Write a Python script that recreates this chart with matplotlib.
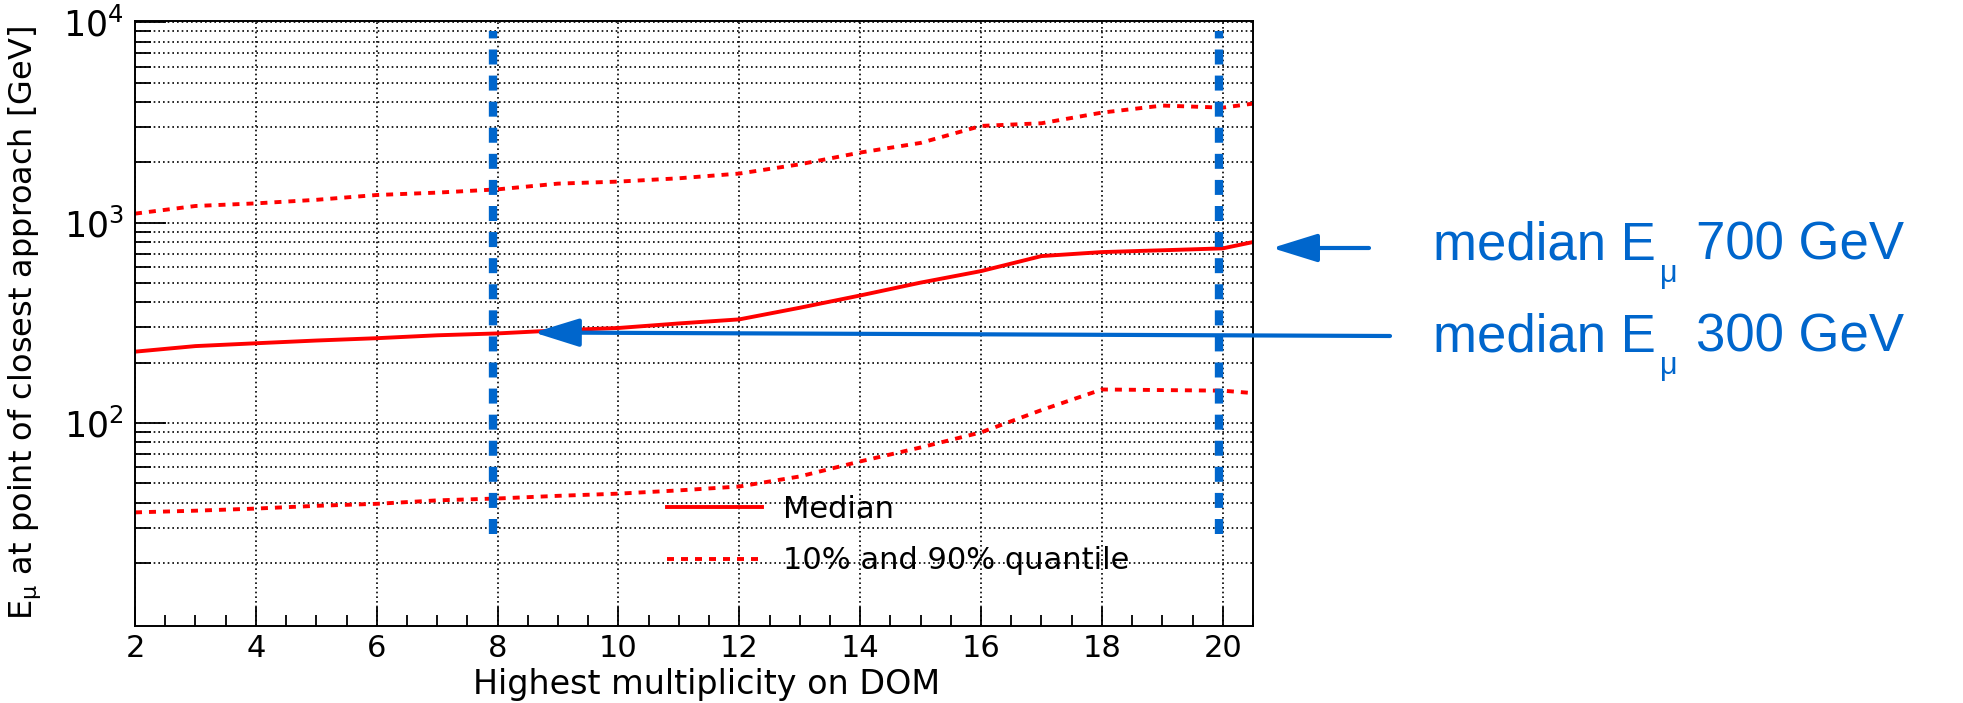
import numpy as np
import matplotlib
matplotlib.use('Agg')
import matplotlib.pyplot as plt
from matplotlib.ticker import FixedLocator, LogLocator, MultipleLocator, NullFormatter
from matplotlib.lines import Line2D

plt.rcParams['font.family'] = ['DejaVu Sans']

# values
multiplicity = [2, 3, 4, 5, 6, 7, 8, 9, 10, 11, 12, 13, 14, 15, 16, 17, 18, 19, 20, 20.5]
median = [227, 242, 250, 258, 265, 274, 280, 290, 298, 314, 329, 376, 433, 502, 573, 681, 713, 728, 744, 800]
q90 = [1109, 1211, 1248, 1300, 1374, 1412, 1466, 1566, 1603, 1665, 1758, 1955, 2238, 2500, 3040, 3134, 3542, 3840, 3751, 3927]
q10 = [35.8, 36.5, 37.4, 38.6, 39.5, 41.1, 42.0, 43.3, 44.4, 46.1, 48.2, 54.1, 64.3, 75.5, 89.8, 116, 147, 146, 145, 141]

cut_lines = [7.93, 19.93]   # blue dashed markers
cut_span = [28, 9000]
legend_labels = ['Median', '10% and 90% quantile']
note_energies = ['700 GeV', '300 GeV']
arrow_300_tip = (8.6, 283)

W, H = 1963, 703
blue = '#0066cc'
dotted = (0, (1.8, 1.8))

fig = plt.figure(figsize=(W / 100, H / 100), dpi=100)
ax = fig.add_axes([135 / W, 1 - 626 / H, (1253 - 135) / W, (626 - 21) / H])

ax.plot(multiplicity, median, color='red', lw=2.8)
ax.plot(multiplicity, q90, color='red', lw=2.8, ls=dotted)
ax.plot(multiplicity, q10, color='red', lw=2.8, ls=dotted)

ax.vlines(cut_lines, cut_span[0], cut_span[1], colors=blue, lw=6, linestyles=[(0, (1.8, 1.33))], zorder=4)

ax.set_yscale('log')
ax.set_xlim(2, 20.5)
ax.set_ylim(9.7, 1.015e4)
ax.xaxis.set_major_locator(MultipleLocator(2))
ax.xaxis.set_minor_locator(MultipleLocator(0.5))
ax.yaxis.set_major_locator(FixedLocator([1e2, 1e3, 1e4]))
ax.yaxis.set_minor_locator(LogLocator(base=10, subs=np.arange(2, 10)))
ax.yaxis.set_minor_formatter(NullFormatter())
ax.set_yticklabels(['$10^{2}$', '$10^{3}$', '$10^{4}$'])

ax.tick_params(axis='x', which='major', direction='in', length=13.7, width=1.3, labelsize=22, pad=6, top=False)
ax.tick_params(axis='x', which='minor', direction='in', length=8, width=1.3, top=False)
ax.tick_params(axis='y', which='major', direction='in', length=22, width=1.3, labelsize=25, pad=8, right=False)
ax.tick_params(axis='y', which='minor', direction='in', length=11.5, width=1.3, right=False)
for s in ax.spines.values():
    s.set_linewidth(1.4)

grid_kw = dict(color='black', lw=1.2, ls=(0, (1, 1.8)))
ax.grid(True, which='major', axis='x', **grid_kw)
ax.grid(True, which='both', axis='y', **grid_kw)
ax.set_axisbelow(True)

ax.set_xlabel('Highest multiplicity on DOM', fontsize=24, va='top')
ax.xaxis.set_label_coords((707 - 135) / 1118, -(668 - 626) / 605)
fig.text(25 / W, 1 - 323 / H, 'E$_{\\mathregular{μ}}$ at point of closest approach [GeV]',
         fontsize=23, rotation=90, ha='center', va='center')

handles = [Line2D([], [], color='red', lw=2.8), Line2D([], [], color='red', lw=2.8, ls=dotted)]
ax.legend(handles, legend_labels, loc='upper left', bbox_to_anchor=(667 / W, 1 - 495 / H),
          bbox_transform=fig.transFigure, frameon=False, fontsize=22, borderpad=0,
          borderaxespad=0, handlelength=3.1, handletextpad=0.69, labelspacing=0.73)

# right-hand notes: "median E", subscript mu, energy
renderer = fig.canvas.get_renderer()
note_kw = dict(color=blue, family='Liberation Sans', va='baseline')
for baseline, energy in zip([260, 352], note_energies):
    yb = 1 - baseline / H
    t1 = fig.text(1433 / W, yb, 'median E', fontsize=38, **note_kw)
    bb = t1.get_window_extent(renderer)
    t2 = fig.text((bb.x1 + 4) / W, yb - 22 / H, 'μ', fontsize=22, **note_kw)
    bb2 = t2.get_window_extent(renderer)
    fig.text((bb2.x1 + 19) / W, yb, energy, fontsize=38, **note_kw)

arrow_kw = dict(arrowstyle='-|>,head_length=28,head_width=8.7', mutation_scale=1, lw=3,
                color=blue, shrinkA=0, shrinkB=0)
ax.annotate('', xy=(1272 / W, 1 - 248 / H), xytext=(1369 / W, 1 - 248 / H),
            xycoords='figure fraction', textcoords='figure fraction',
            arrowprops=arrow_kw, annotation_clip=False)
ax.annotate('', xy=arrow_300_tip, xytext=(1390 / W, 1 - 336 / H),
            xycoords='data', textcoords='figure fraction',
            arrowprops=arrow_kw, annotation_clip=False, zorder=5)

fig.savefig('out.png', dpi=100)
